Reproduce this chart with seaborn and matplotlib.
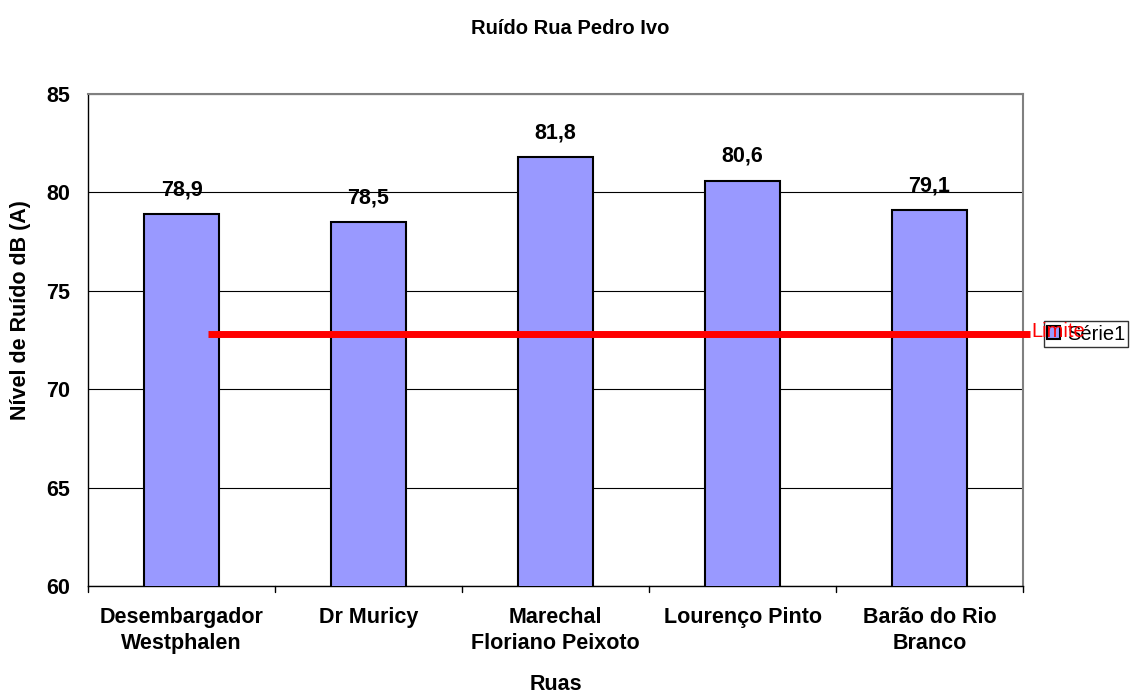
import matplotlib
matplotlib.use("Agg")
import matplotlib.pyplot as plt
import seaborn as sns
import pandas as pd

ruas = ["Desembargador\nWestphalen", "Dr Muricy", "Marechal\nFloriano Peixoto",
        "Lourenço Pinto", "Barão do Rio\nBranco"]
niveis = [78.9, 78.5, 81.8, 80.6, 79.1]
limite = 72.8
y_ticks = [60, 65, 70, 75, 80, 85]

sns.set_theme(style="white")
plt.rcParams["font.family"] = ["Liberation Sans", "DejaVu Sans"]
plt.rcParams["text.color"] = "black"
plt.rcParams["axes.labelcolor"] = "black"
plt.rcParams["xtick.color"] = "black"
plt.rcParams["ytick.color"] = "black"

FS = 15.5

fig = plt.figure(figsize=(11.41, 6.95), dpi=100)
ax = fig.add_axes([88 / 1141, 1 - 586 / 695, (1023 - 88) / 1141, (586 - 94) / 695])

df = pd.DataFrame({"Rua": ruas, "Nivel": niveis})
sns.barplot(data=df, x="Rua", y="Nivel", ax=ax, color="#9999FF", saturation=1,
            width=0.4, edgecolor="black", linewidth=1.5, zorder=3)

ax.set_ylim(60, 85)
ax.set_xlim(-0.5, 4.5)
ax.set_yticks(y_ticks)
ax.yaxis.grid(True, color="black", linewidth=0.8, zorder=0)
ax.set_axisbelow(True)

for spine in ["top", "right"]:
    ax.spines[spine].set_color("#808080")
    ax.spines[spine].set_linewidth(1.5)
for spine in ["left", "bottom"]:
    ax.spines[spine].set_color("black")
    ax.spines[spine].set_linewidth(1.0)

ax.tick_params(axis="y", which="major", length=4.3, width=1, color="black",
               direction="out", labelsize=FS, pad=8.5)
ax.tick_params(axis="x", length=0, pad=15, labelsize=FS)
for t in ax.get_yticklabels() + ax.get_xticklabels():
    t.set_fontweight("bold")
for t in ax.get_xticklabels():
    t.set_linespacing(1.3)

# Category separators on the x axis
for pos in [-0.5, 0.5, 1.5, 2.5, 3.5, 4.5]:
    ax.plot([pos, pos], [0, -0.012], transform=ax.get_xaxis_transform(),
            color="black", linewidth=1, clip_on=False)

for i, v in enumerate(niveis):
    ax.annotate(f"{v:.1f}".replace(".", ","), xy=(i, v), xytext=(0, 13.5),
                textcoords="offset points", ha="center", va="baseline",
                fontsize=FS, fontweight="bold")

ax.set_xlabel("Ruas", fontsize=FS, fontweight="bold")
ax.xaxis.set_label_coords(0.5, (586 - 684) / 492)
ax.xaxis.label.set_va("center")
ax.set_ylabel("Nível de Ruído dB (A)", fontsize=FS, fontweight="bold")
ax.yaxis.set_label_coords((21 - 88) / 935, (586 - 310) / 492)
ax.yaxis.label.set_va("center")
fig.suptitle("Ruído Rua Pedro Ivo", x=0.5, y=1 - 28 / 695, va="center",
             fontsize=14.5, fontweight="bold")

# Limit line
ax.plot([0.14, 4.54], [limite, limite], color="#FF0000", linewidth=5,
        solid_capstyle="butt", clip_on=False, zorder=5)

# Legend box
handle = plt.Rectangle((0, 0), 1, 1, facecolor="#9999FF", edgecolor="black", linewidth=1.5)
leg = fig.legend([handle], ["Série1"], loc="center left",
                 bbox_to_anchor=(1044 / 1141, 1 - 334 / 695), frameon=True,
                 fancybox=False, edgecolor="black", fontsize=14.5,
                 handlelength=0.65, handleheight=0.65, handletextpad=0.35,
                 borderpad=0.15, borderaxespad=0)
leg.get_frame().set_linewidth(1)

fig.text(1031 / 1141, 1 - 331 / 695, "Limite", color="#FF0000", fontsize=14.5,
         ha="left", va="center", zorder=10)

fig.savefig("out.png", dpi=100, facecolor="white")
